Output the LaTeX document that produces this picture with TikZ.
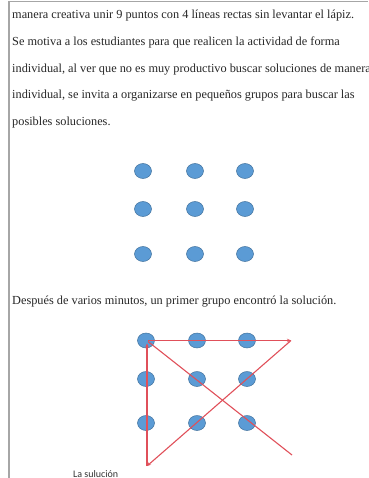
\documentclass[tikz,border=0pt]{standalone}
\usepackage{fontspec}
\setmainfont{Liberation Serif}
\newfontfamily\calibri{Carlito}
\usetikzlibrary{shapes.geometric,arrows.meta,positioning}

\definecolor{dot-blue}{HTML}{5B9BD5}
\definecolor{dot-edge}{HTML}{41719C}
\definecolor{sol-red}{HTML}{E0505A}
\definecolor{page-gray}{HTML}{A6A6A6}

\tikzstyle{text-line} = [anchor=base west, inner sep=0pt, font=\fontsize{12.3}{14}\selectfont, text=black!85]
\tikzstyle{caption-line} = [anchor=base west, inner sep=0pt, font=\calibri\fontsize{10}{12}\selectfont, text=black!80]
\tikzstyle{dot-node} = [ellipse, draw=dot-edge, fill=dot-blue, line width=0.5pt, minimum width=17pt, minimum height=15pt, inner sep=0pt]
\tikzstyle{solution-line} = [draw=sol-red, line width=1.1pt]
\tikzstyle{solution-arrow} = [solution-line, -{Stealth[length=4pt,width=3.5pt]}]

\begin{document}
\begin{tikzpicture}[x=1pt,y=-1pt]
	\useasboundingbox (0,0) rectangle (368,478);
	
	% page edges
	\draw[page-gray, line width=1.5pt] (9,478) -- (9,1.5) -- (368,1.5);
	
	\node [text-line] (line1) at (12,18.5) {manera creativa unir 9 puntos con 4 líneas rectas sin levantar el lápiz.};
	\node [text-line] (line2) at (12,45.3) {Se motiva a los estudiantes para que realicen la actividad de forma};
	\node [text-line] (line3) at (12,72.1) {individual, al ver que no es muy productivo buscar soluciones de manera};
	\node [text-line] (line4) at (12,98.9) {individual, se invita a organizarse en pequeños grupos para buscar las};
	\node [text-line] (line5) at (12,125.7) {posibles soluciones.};
	
	% the nine points
	\foreach \c/\x in {1/143,2/195,3/245}{%
		\foreach \r/\y in {1/171,2/209,3/254}{%
			\node [dot-node] (a\r\c) at (\x,\y) {};}}
	
	\node [text-line] (line6) at (12,304) {Después de varios minutos, un primer grupo encontró la solución.};
	
	\foreach \c/\x in {1/146,2/197,3/247}{%
		\foreach \r/\y in {1/340.5,2/379,3/423}{%
			\node [dot-node] (b\r\c) at (\x,\y) {};}}
	
	% the four lines
	\coordinate (corner-tr) at (291,340.5);
	\coordinate (corner-bl) at (147,466);
	\coordinate (corner-br) at (292,455);
	
	\draw[solution-line] (corner-br) -- ([shift={(2,1)}]b11.center);
	\draw[solution-arrow] ([xshift=2pt]b11.center) -- (corner-tr);
	\draw[solution-arrow] (corner-tr) -- (corner-bl);
	\draw[solution-arrow, shorten >=3pt] (corner-bl) -- (corner-bl |- b11.center);
	
	\node [caption-line] (caption) at (73,477.3) {La sulución};
	
\end{tikzpicture}
\end{document}
